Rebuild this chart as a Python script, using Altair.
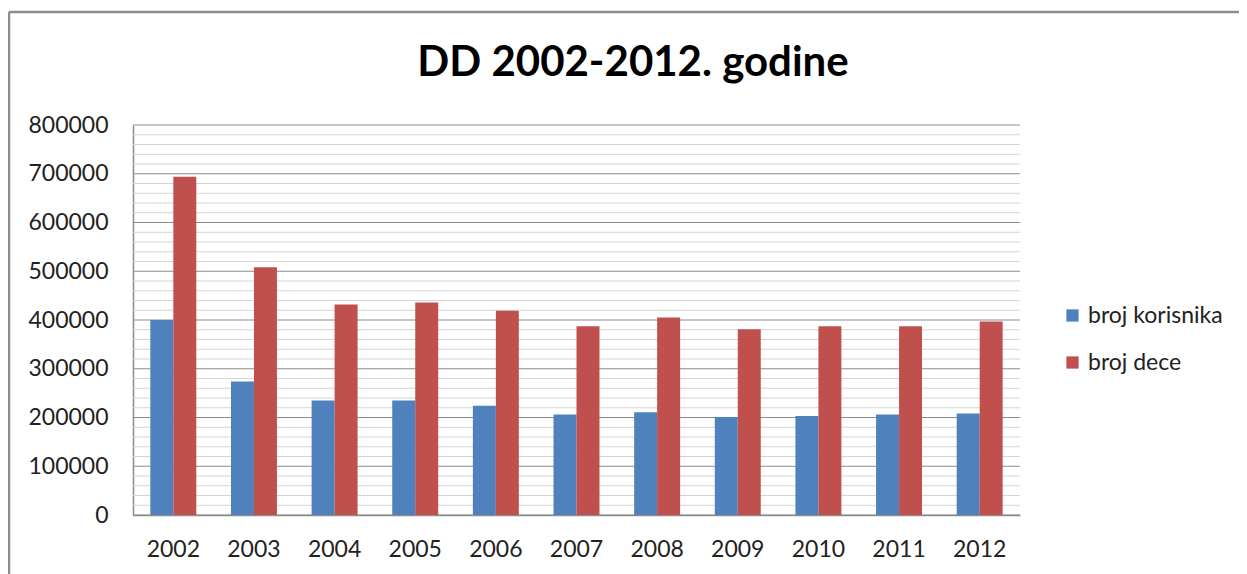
import altair as alt
import pandas as pd

years = ["2002", "2003", "2004", "2005", "2006", "2007", "2008", "2009", "2010", "2011", "2012"]
korisnika = [400000, 274000, 235000, 235000, 224000, 206000, 211000, 201000, 203000, 206000, 208000]
dece = [694000, 508000, 432000, 436000, 419000, 387000, 405000, 381000, 387000, 387000, 397000]
series = ["broj korisnika", "broj dece"]
colors = ["#4F81BD", "#C0504D"]
grid_values = list(range(0, 800001, 20000))
title_text = "DD 2002-2012. godine"

rows = []
for i, y in enumerate(years):
    rows.append({"year": y, "series": series[0], "value": korisnika[i]})
    rows.append({"year": y, "series": series[1], "value": dece[i]})
df = pd.DataFrame(rows)

FONT = "Lato"
W, H = 887, 390

grid_df = pd.DataFrame({"v": grid_values})
grid = alt.Chart(grid_df).mark_rule(strokeWidth=1).encode(
    y=alt.Y("v:Q", scale=alt.Scale(domain=[0, 800000])),
    color=alt.condition("datum.v % 100000 === 0", alt.value("#8c8c8c"), alt.value("#d4d4d4")),
)

bars = alt.Chart(df).mark_bar().encode(
    x=alt.X("year:N", sort=years,
            scale=alt.Scale(paddingInner=0.43, paddingOuter=0.215),
            axis=alt.Axis(title=None, labelAngle=0, labelFontSize=23, labelFont=FONT,
                          labelColor="#222", labelPadding=23, ticks=False,
                          domainColor="#8c8c8c", domainWidth=1.5)),
    xOffset=alt.XOffset("series:N", sort=series),
    y=alt.Y("value:Q", scale=alt.Scale(domain=[0, 800000]),
            axis=alt.Axis(title=None, values=list(range(0, 800001, 100000)), format="d",
                          labelFontSize=23, labelFont=FONT, labelColor="#222",
                          labelPadding=25, ticks=False, grid=False,
                          domainColor="#8c8c8c", domainWidth=1.5)),
    color=alt.Color("series:N", sort=series,
                    scale=alt.Scale(domain=series, range=colors),
                    legend=alt.Legend(title=None, orient="none", legendX=928, legendY=179,
                                      symbolType="square", symbolSize=150,
                                      labelFontSize=23, labelFont=FONT, labelColor="#222",
                                      rowPadding=23, symbolStrokeWidth=0)),
)

one = pd.DataFrame({"a": [0]})
border_top = alt.Chart(one).mark_rule(color="#8c8c8c", strokeWidth=2.5).encode(
    x=alt.value(-124), x2=alt.value(1114), y=alt.value(-113))
border_left = alt.Chart(one).mark_rule(color="#8c8c8c", strokeWidth=2.5).encode(
    x=alt.value(-124), y=alt.value(-113), y2=alt.value(470))
title = alt.Chart(one).mark_text(font=FONT, fontSize=42, fontWeight="bold", color="#000",
                                 align="center", baseline="alphabetic").encode(
    x=alt.value(500), y=alt.value(-49), text=alt.value(title_text))

chart = alt.layer(grid, bars, border_top, border_left, title).properties(
    width=W, height=H,
    autosize=alt.AutoSizeParams(type="none"),
    padding={"left": 125, "top": 117, "right": 219, "bottom": 60},
).configure_view(stroke=None)

chart.save("out.html", embed_options={"renderer": "svg", "actions": False})
